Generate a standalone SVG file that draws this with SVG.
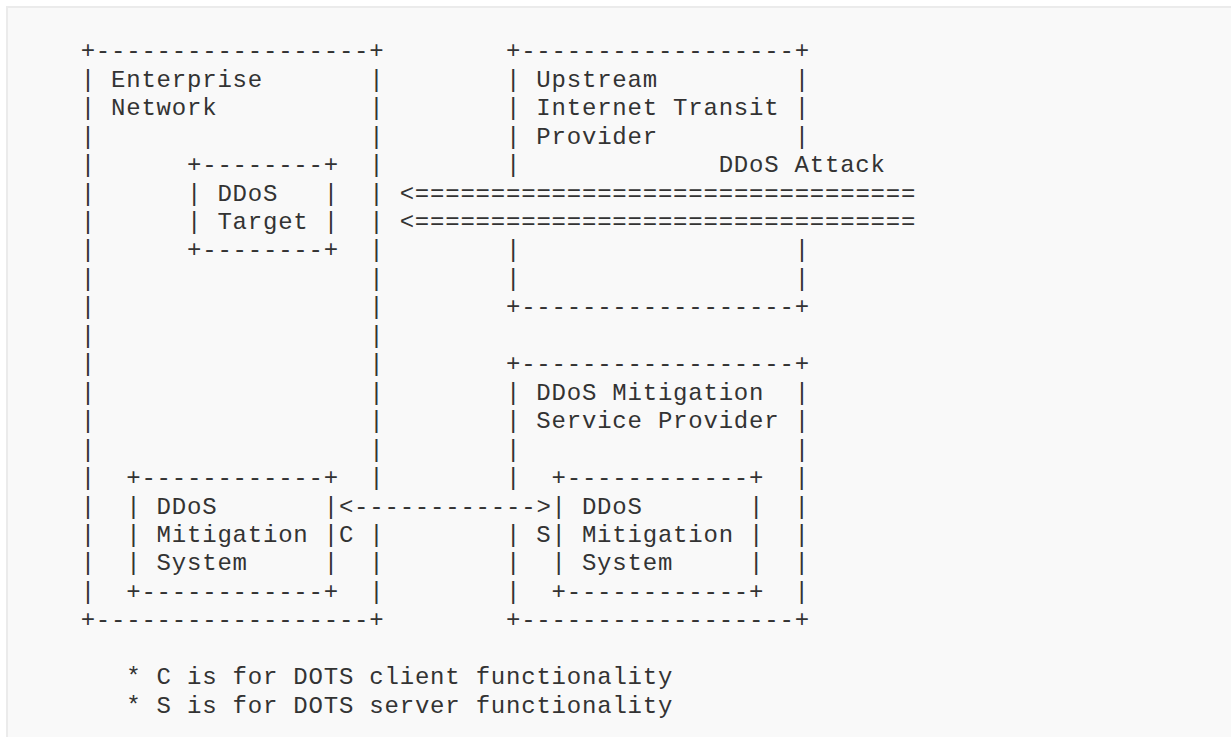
<svg xmlns="http://www.w3.org/2000/svg" width="1231" height="737" viewBox="0 0 1231 737" xml:space="preserve">
<style>
text{font-family:"Liberation Mono","DejaVu Sans Mono",monospace;font-size:24px;letter-spacing:0.79px;fill:#333333;white-space:pre}
</style>
<rect x="7" y="7" width="1300" height="800" fill="#f9f9f9" stroke="#ebebeb" stroke-width="2"/>
<g id="enterprise-network">
<text x="80.67" y="58.3">+------------------+</text>
<text x="80.67" y="86.75">| Enterprise       |</text>
<text x="80.67" y="115.2">| Network          |</text>
<text x="80.67" y="143.65">|                  |</text>
<text x="80.67" y="172.1">|</text><text x="369.28" y="172.1">|</text>
<text x="80.67" y="200.55">|</text><text x="369.28" y="200.55">|</text>
<text x="80.67" y="229">|</text><text x="369.28" y="229">|</text>
<text x="80.67" y="257.45">|</text><text x="369.28" y="257.45">|</text>
<text x="80.67" y="285.9">|                  |</text>
<text x="80.67" y="314.35">|                  |</text>
<text x="80.67" y="342.8">|                  |</text>
<text x="80.67" y="371.25">|                  |</text>
<text x="80.67" y="399.7">|                  |</text>
<text x="80.67" y="428.15">|                  |</text>
<text x="80.67" y="456.6">|                  |</text>
<text x="80.67" y="485.05">|</text><text x="369.28" y="485.05">|</text>
<text x="80.67" y="513.5">|</text>
<text x="80.67" y="541.95">|</text><text x="369.28" y="541.95">|</text>
<text x="80.67" y="570.4">|</text><text x="369.28" y="570.4">|</text>
<text x="80.67" y="598.85">|</text><text x="369.28" y="598.85">|</text>
<text x="80.67" y="627.3">+------------------+</text>
</g>
<g id="ddos-target">
<text x="187" y="172.1">+--------+</text>
<text x="187" y="200.55">| DDoS   |</text>
<text x="187" y="229">| Target |</text>
<text x="187" y="257.45">+--------+</text>
</g>
<g id="upstream-transit-provider">
<text x="505.99" y="58.3">+------------------+</text>
<text x="505.99" y="86.75">| Upstream         |</text>
<text x="505.99" y="115.2">| Internet Transit |</text>
<text x="505.99" y="143.65">| Provider         |</text>
<text x="505.99" y="172.1">|</text>
<text x="505.99" y="257.45">|                  |</text>
<text x="505.99" y="285.9">|                  |</text>
<text x="505.99" y="314.35">+------------------+</text>
</g>
<g id="mitigation-service-provider">
<text x="505.99" y="371.25">+------------------+</text>
<text x="505.99" y="399.7">| DDoS Mitigation  |</text>
<text x="505.99" y="428.15">| Service Provider |</text>
<text x="505.99" y="456.6">|                  |</text>
<text x="505.99" y="485.05">|</text><text x="794.6" y="485.05">|</text>
<text x="794.6" y="513.5">|</text>
<text x="505.99" y="541.95">|</text><text x="794.6" y="541.95">|</text>
<text x="505.99" y="570.4">|</text><text x="794.6" y="570.4">|</text>
<text x="505.99" y="598.85">|</text><text x="794.6" y="598.85">|</text>
<text x="505.99" y="627.3">+------------------+</text>
</g>
<g id="client-mitigation-system">
<text x="126.24" y="485.05">+------------+</text>
<text x="126.24" y="513.5">| DDoS       |</text>
<text x="126.24" y="541.95">| Mitigation |</text>
<text x="126.24" y="570.4">| System     |</text>
<text x="126.24" y="598.85">+------------+</text>
<text x="338.9" y="541.95">C</text>
</g>
<g id="server-mitigation-system">
<text x="551.56" y="485.05">+------------+</text>
<text x="551.56" y="513.5">| DDoS       |</text>
<text x="551.56" y="541.95">| Mitigation |</text>
<text x="551.56" y="570.4">| System     |</text>
<text x="551.56" y="598.85">+------------+</text>
<text x="536.37" y="541.95">S</text>
</g>
<g id="connectors">
<text x="718.65" y="172.1">DDoS Attack</text>
<text x="399.66" y="200.55">&lt;=================================</text>
<text x="399.66" y="229">&lt;=================================</text>
<text x="338.9" y="513.5">&lt;------------&gt;</text>
</g>
<g id="legend">
<text x="126.24" y="684.2">* C is for DOTS client functionality</text>
<text x="126.24" y="712.65">* S is for DOTS server functionality</text>
</g>
</svg>
